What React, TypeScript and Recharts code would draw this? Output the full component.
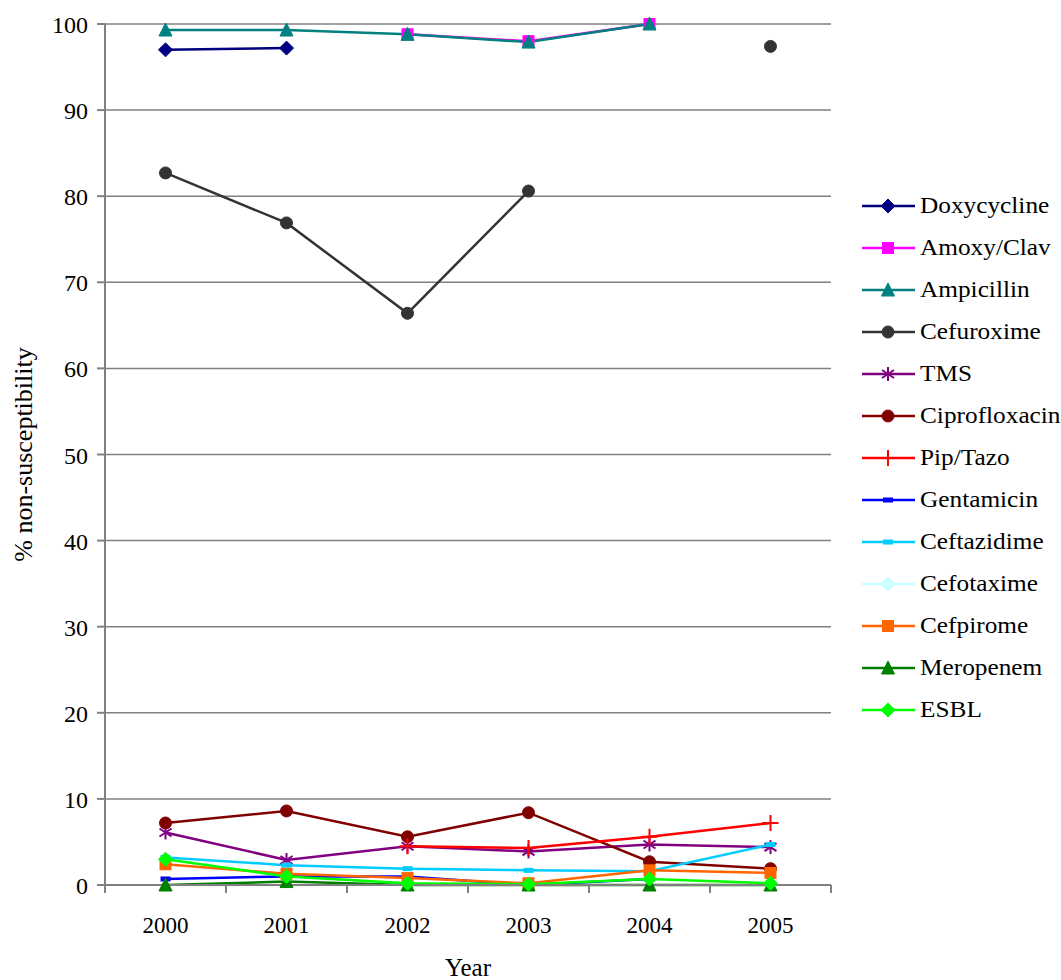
import React from 'react';
import { LineChart, Line, XAxis, YAxis, CartesianGrid, Legend, Label } from 'recharts';

const YEARS = [2000, 2001, 2002, 2003, 2004, 2005];
const Y_TICKS = [0, 10, 20, 30, 40, 50, 60, 70, 80, 90, 100];

const DOXYCYCLINE = [97.0, 97.2, null, null, null, null];
const AMOXY_CLAV = [null, null, 98.8, 98.0, 100, null];
const AMPICILLIN = [99.3, 99.3, 98.8, 97.9, 100, null];
const CEFUROXIME = [82.7, 76.9, 66.4, 80.6, null, 97.4];
const TMS = [6.1, 2.9, 4.5, 3.9, 4.7, 4.4];
const CIPROFLOXACIN = [7.2, 8.6, 5.6, 8.4, 2.7, 1.9];
const PIP_TAZO = [null, null, 4.5, 4.3, 5.6, 7.2];
const GENTAMICIN = [0.7, 1.0, 1.0, 0, 0.7, null];
const CEFTAZIDIME = [3.2, 2.3, 1.9, 1.7, 1.6, 4.7];
const CEFOTAXIME = [null, null, null, null, null, null];
const CEFPIROME = [2.4, 1.3, 0.8, 0.2, 1.7, 1.4];
const MEROPENEM = [0, 0.4, 0, 0, 0, 0];
const ESBL = [3.0, 1.0, 0.2, 0.1, 0.7, 0.2];

type Shape = 'diamond' | 'square' | 'triangle' | 'circle' | 'star' | 'plus' | 'dash';

const SERIES: { key: string; name: string; values: (number | null)[]; color: string; shape: Shape }[] = [
  { key: 'doxy', name: 'Doxycycline', values: DOXYCYCLINE, color: '#000080', shape: 'diamond' },
  { key: 'amoxy', name: 'Amoxy/Clav', values: AMOXY_CLAV, color: '#FF00FF', shape: 'square' },
  { key: 'ampi', name: 'Ampicillin', values: AMPICILLIN, color: '#008080', shape: 'triangle' },
  { key: 'cefur', name: 'Cefuroxime', values: CEFUROXIME, color: '#333333', shape: 'circle' },
  { key: 'tms', name: 'TMS', values: TMS, color: '#800080', shape: 'star' },
  { key: 'cipro', name: 'Ciprofloxacin', values: CIPROFLOXACIN, color: '#800000', shape: 'circle' },
  { key: 'pip', name: 'Pip/Tazo', values: PIP_TAZO, color: '#FF0000', shape: 'plus' },
  { key: 'gent', name: 'Gentamicin', values: GENTAMICIN, color: '#0000FF', shape: 'dash' },
  { key: 'ceftaz', name: 'Ceftazidime', values: CEFTAZIDIME, color: '#00CCFF', shape: 'dash' },
  { key: 'cefot', name: 'Cefotaxime', values: CEFOTAXIME, color: '#CCFFFF', shape: 'diamond' },
  { key: 'cefpir', name: 'Cefpirome', values: CEFPIROME, color: '#FF6600', shape: 'square' },
  { key: 'mero', name: 'Meropenem', values: MEROPENEM, color: '#008000', shape: 'triangle' },
  { key: 'esbl', name: 'ESBL', values: ESBL, color: '#00FF00', shape: 'diamond' },
];

const DATA = YEARS.map((year, i) => {
  const row: Record<string, number | null> = { year };
  SERIES.forEach((s) => {
    row[s.key] = s.values[i];
  });
  return row;
});

const FONT = '"Liberation Serif", "Times New Roman", serif';
const W = 1061;
const H = 980;
const PLOT_LEFT = 105;
const PLOT_RIGHT = 831;
const PLOT_TOP = 24;
const PLOT_BOTTOM = 885;
const LEGEND_W = 200;
const HALF_BAND = (PLOT_RIGHT - PLOT_LEFT) / YEARS.length / 2;
const AXIS_COLOR = '#808080';

function Marker({ shape, cx, cy, color }: { shape: Shape; cx: number; cy: number; color: string }) {
  switch (shape) {
    case 'diamond':
      return <polygon points={`${cx},${cy - 7} ${cx + 7},${cy} ${cx},${cy + 7} ${cx - 7},${cy}`} fill={color} stroke={color} strokeWidth={1} />;
    case 'square':
      return <rect x={cx - 5.5} y={cy - 5.5} width={11} height={11} fill={color} stroke={color} strokeWidth={1} />;
    case 'triangle':
      return <polygon points={`${cx},${cy - 7} ${cx + 6.5},${cy + 6} ${cx - 6.5},${cy + 6}`} fill={color} stroke={color} strokeWidth={1} />;
    case 'circle':
      return <circle cx={cx} cy={cy} r={6} fill={color} stroke={color} strokeWidth={1} />;
    case 'star':
      return (
        <g stroke={color} strokeWidth={2}>
          <line x1={cx} y1={cy - 7} x2={cx} y2={cy + 7} />
          <line x1={cx - 6} y1={cy - 4} x2={cx + 6} y2={cy + 4} />
          <line x1={cx - 6} y1={cy + 4} x2={cx + 6} y2={cy - 4} />
        </g>
      );
    case 'plus':
      return (
        <g stroke={color} strokeWidth={2}>
          <line x1={cx} y1={cy - 8} x2={cx} y2={cy + 8} />
          <line x1={cx - 8} y1={cy} x2={cx + 8} y2={cy} />
        </g>
      );
    case 'dash':
    default:
      return <rect x={cx - 5} y={cy - 2.5} width={10} height={5} fill={color} />;
  }
}

function makeDot(shape: Shape, color: string) {
  return (props: any) => {
    const { cx, cy, index, value } = props;
    if (cx == null || cy == null || value == null || (Array.isArray(value) && value[1] == null)) {
      return <g key={`e-${index}`} />;
    }
    return (
      <g key={`d-${index}`}>
        <Marker shape={shape} cx={cx} cy={cy} color={color} />
      </g>
    );
  };
}

function XTick(props: any) {
  const { x, payload, index } = props;
  const isLast = index === YEARS.length - 1;
  return (
    <g>
      <line x1={x - HALF_BAND} y1={PLOT_BOTTOM} x2={x - HALF_BAND} y2={PLOT_BOTTOM + 8} stroke={AXIS_COLOR} strokeWidth={2} />
      {isLast && (
        <line x1={x + HALF_BAND} y1={PLOT_BOTTOM} x2={x + HALF_BAND} y2={PLOT_BOTTOM + 8} stroke={AXIS_COLOR} strokeWidth={2} />
      )}
      <text x={x} y={PLOT_BOTTOM + 48} textAnchor="middle" style={{ fontFamily: FONT, fontSize: 23 }} fill="#000">
        {payload.value}
      </text>
    </g>
  );
}

function YTick(props: any) {
  const { y, payload } = props;
  return (
    <text x={88} y={y + 9} textAnchor="end" style={{ fontFamily: FONT, fontSize: 24 }} fill="#000">
      {payload.value}
    </text>
  );
}

function LegendContent() {
  return (
    <div style={{ fontFamily: FONT, fontSize: 23, color: '#000', width: LEGEND_W }}>
      {SERIES.map((s) => (
        <div key={s.key} style={{ display: 'flex', alignItems: 'center', height: 42 }}>
          <svg width={56} height={20} style={{ flex: 'none' }}>
            <line x1={2} y1={10} x2={55} y2={10} stroke={s.color} strokeWidth={2.5} />
            <Marker shape={s.shape} cx={28} cy={10} color={s.color} />
          </svg>
          <span
            style={{
              marginLeft: 4,
              whiteSpace: 'nowrap',
              display: 'inline-block',
              transform: 'scaleX(1.1)',
              transformOrigin: 'left center',
            }}
          >
            {s.name}
          </span>
        </div>
      ))}
    </div>
  );
}

export default function App() {
  const midY = (PLOT_TOP + PLOT_BOTTOM) / 2;
  return (
    <div style={{ position: 'absolute', left: 0, top: 0, width: W, height: H, background: '#fff', overflow: 'hidden' }}>
      <LineChart
        width={W}
        height={H}
        data={DATA}
        margin={{ top: PLOT_TOP, right: W - PLOT_RIGHT - LEGEND_W, bottom: 0, left: 0 }}
      >
        <CartesianGrid horizontal vertical={false} stroke={AXIS_COLOR} strokeWidth={1.5} />
        <XAxis
          dataKey="year"
          type="number"
          domain={[YEARS[0] - 0.5, YEARS[YEARS.length - 1] + 0.5]}
          ticks={YEARS}
          interval={0}
          tickLine={false}
          axisLine={{ stroke: AXIS_COLOR, strokeWidth: 2 }}
          tick={<XTick />}
          height={H - PLOT_BOTTOM}
        >
          <Label
            content={() => (
              <text x={(PLOT_LEFT + PLOT_RIGHT) / 2} y={976} textAnchor="middle" style={{ fontFamily: FONT, fontSize: 25 }} fill="#000">
                Year
              </text>
            )}
          />
        </XAxis>
        <YAxis
          type="number"
          domain={[0, 100]}
          ticks={Y_TICKS}
          interval={0}
          width={PLOT_LEFT}
          tickSize={8}
          tickLine={{ stroke: AXIS_COLOR, strokeWidth: 2 }}
          axisLine={{ stroke: AXIS_COLOR, strokeWidth: 2 }}
          tick={<YTick />}
        >
          <Label
            content={() => (
              <text
                x={23}
                y={midY}
                transform={`rotate(-90 23 ${midY})`}
                textAnchor="middle"
                dominantBaseline="central"
                style={{ fontFamily: FONT, fontSize: 26 }}
                fill="#000"
              >
                % non-susceptibility
              </text>
            )}
          />
        </YAxis>
        {SERIES.map((s) => (
          <Line
            key={s.key}
            dataKey={s.key}
            name={s.name}
            type="linear"
            stroke={s.color}
            strokeWidth={2.5}
            dot={makeDot(s.shape, s.color)}
            activeDot={false}
            connectNulls={false}
            isAnimationActive={false}
          />
        ))}
        <Legend
          layout="vertical"
          align="right"
          verticalAlign="top"
          content={<LegendContent />}
          wrapperStyle={{ position: 'absolute', left: 860, top: 185, width: LEGEND_W, right: 'auto' }}
        />
      </LineChart>
    </div>
  );
}
